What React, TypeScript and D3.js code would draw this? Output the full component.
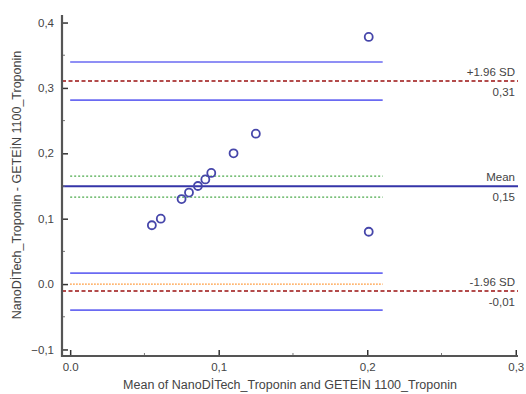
import React, { useRef, useEffect } from "react"
import * as d3 from "d3"

// Bland-Altman data: mean of methods vs difference
const meanVals = [0.055, 0.061, 0.075, 0.080, 0.086, 0.091, 0.095, 0.110, 0.125, 0.201, 0.201]
const diffVals = [0.090, 0.100, 0.130, 0.140, 0.150, 0.160, 0.170, 0.200, 0.230, 0.378, 0.080]

const xTicks = [0, 0.1, 0.2, 0.3]
const yTicks = [-0.1, 0, 0.1, 0.2, 0.3, 0.4]

const meanDiff = 0.1497
const upperLoA = 0.3105
const lowerLoA = -0.0107
const meanCI = [0.165, 0.133]
const upperCI = [0.3396, 0.2814]
const lowerCI = [0.0168, -0.0398]
const ciExtent = [0, 0.2104]

const refLabels = [
  { value: upperLoA, top: "+1.96 SD", bottom: "0,31", color: "#9b1111", dash: "4,2.5", width: 1.6 },
  { value: meanDiff, top: "Mean", bottom: "0,15", color: "#3535a8", dash: null, width: 2 },
  { value: lowerLoA, top: "-1.96 SD", bottom: "-0,01", color: "#9b1111", dash: "4,2.5", width: 1.6 },
]

const W = 526
const H = 394
const FONT = "'Liberation Sans', Arial, sans-serif"

const fmt = (d: number) => (d === 0 ? "0.0" : d3.format(".1f")(d).replace(".", ","))

export default function App() {
  const svgRef = useRef<SVGSVGElement>(null)

  useEffect(() => {
    const svg = svgRef.current
    if (!svg) return
    d3.select(svg).selectAll("*").remove()
    const root = d3.select(svg)

    const x = d3.scaleLinear().domain([-0.0055, 0.3015]).range([62, 518])
    const y = d3.scaleLinear().domain([-0.11, 0.41]).range([356, 16])

    // CI lines (light blue)
    ;[...upperCI, ...lowerCI].forEach((v) => {
      root.append("line")
        .attr("x1", x(ciExtent[0])).attr("x2", x(ciExtent[1]))
        .attr("y1", y(v)).attr("y2", y(v))
        .attr("stroke", "#6a6af2").attr("stroke-width", 1.6)
    })

    // CI of mean (green dotted)
    meanCI.forEach((v) => {
      root.append("line")
        .attr("x1", x(ciExtent[0])).attr("x2", x(ciExtent[1]))
        .attr("y1", y(v)).attr("y2", y(v))
        .attr("stroke", "#4caa4c").attr("stroke-width", 1.2)
        .attr("stroke-dasharray", "2,2")
    })

    // line of equality (orange dotted)
    root.append("line")
      .attr("x1", x(ciExtent[0])).attr("x2", x(ciExtent[1]))
      .attr("y1", y(0)).attr("y2", y(0))
      .attr("stroke", "#ff8a1e").attr("stroke-width", 1.2)
      .attr("stroke-dasharray", "1.5,1.5")

    // mean & limits of agreement
    refLabels.forEach((r) => {
      const ln = root.append("line")
        .attr("x1", x.range()[0]).attr("x2", x.range()[1])
        .attr("y1", y(r.value)).attr("y2", y(r.value))
        .attr("stroke", r.color).attr("stroke-width", r.width)
      if (r.dash) ln.attr("stroke-dasharray", r.dash)
      root.append("text")
        .attr("x", 515).attr("y", y(r.value) - 5)
        .attr("text-anchor", "end")
        .attr("font-family", FONT).attr("font-size", 11.5).attr("fill", "#444")
        .text(r.top)
      root.append("text")
        .attr("x", 515).attr("y", y(r.value) + 15)
        .attr("text-anchor", "end")
        .attr("font-family", FONT).attr("font-size", 11.5).attr("fill", "#444")
        .text(r.bottom)
    })

    // Points
    root.append("g")
      .selectAll("circle")
      .data(meanVals.map((m, i) => [m, diffVals[i]]))
      .join("circle")
      .attr("cx", (d) => x(d[0]))
      .attr("cy", (d) => y(d[1]))
      .attr("r", 4)
      .attr("fill", "none")
      .attr("stroke", "#4646aa")
      .attr("stroke-width", 1.8)

    // Y axis
    const yAxis = root.append("g").attr("transform", `translate(${x.range()[0]},0)`)
    yAxis.call(d3.axisLeft(y).tickValues(yTicks).tickSizeInner(-6).tickSizeOuter(0).tickPadding(8).tickFormat((d) => fmt(d as number)))
      .call((g) => g.select(".domain").remove())
      .call((g) => g.selectAll(".tick line").attr("stroke", "#333").attr("stroke-width", 1.5))
      .call((g) => g.selectAll("text").attr("fill", "#444").attr("font-size", 11.5).attr("font-family", FONT))
    yAxis.selectAll(".minor")
      .data(d3.range(-0.05, 0.4, 0.1))
      .join("line")
      .attr("x1", 0).attr("x2", 3)
      .attr("y1", (d) => y(d)).attr("y2", (d) => y(d))
      .attr("stroke", "#777").attr("stroke-width", 1)

    // X axis
    const xAxis = root.append("g").attr("transform", `translate(0,${y.range()[0]})`)
    xAxis.call(d3.axisBottom(x).tickValues(xTicks).tickSizeInner(-6).tickSizeOuter(0).tickPadding(7).tickFormat((d) => fmt(d as number)))
      .call((g) => g.select(".domain").remove())
      .call((g) => g.selectAll(".tick line").attr("stroke", "#333").attr("stroke-width", 1.5))
      .call((g) => g.selectAll("text").attr("fill", "#444").attr("font-size", 11.5).attr("font-family", FONT))
    xAxis.selectAll(".minor")
      .data([0.05, 0.15, 0.25])
      .join("line")
      .attr("x1", (d) => x(d)).attr("x2", (d) => x(d))
      .attr("y1", 0).attr("y2", -3)
      .attr("stroke", "#777").attr("stroke-width", 1)

    // axis lines
    root.append("line")
      .attr("x1", x.range()[0]).attr("x2", x.range()[0])
      .attr("y1", 15).attr("y2", y.range()[0] + 1)
      .attr("stroke", "#555").attr("stroke-width", 2.2)
    root.append("line")
      .attr("x1", x.range()[0] - 1).attr("x2", x.range()[1])
      .attr("y1", y.range()[0]).attr("y2", y.range()[0])
      .attr("stroke", "#555").attr("stroke-width", 2.2)

    // Axis titles
    root.append("text")
      .attr("x", (x.range()[0] + x.range()[1]) / 2)
      .attr("y", 389)
      .attr("text-anchor", "middle")
      .attr("font-family", FONT).attr("font-size", 12.5).attr("fill", "#444")
      .text("Mean of NanoDİTech_Troponin and GETEİN 1100_Troponin")
    root.append("text")
      .attr("transform", `translate(21,185) rotate(-90)`)
      .attr("text-anchor", "middle")
      .attr("font-family", FONT).attr("font-size", 12.5).attr("fill", "#444")
      .text("NanoDİTech_Troponin - GETEİN 1100_Troponin")
  }, [])

  return (
    <svg
      ref={svgRef}
      width={W}
      height={H}
      style={{ position: "absolute", left: 0, top: 0, background: "#fff" }}
    />
  )
}
